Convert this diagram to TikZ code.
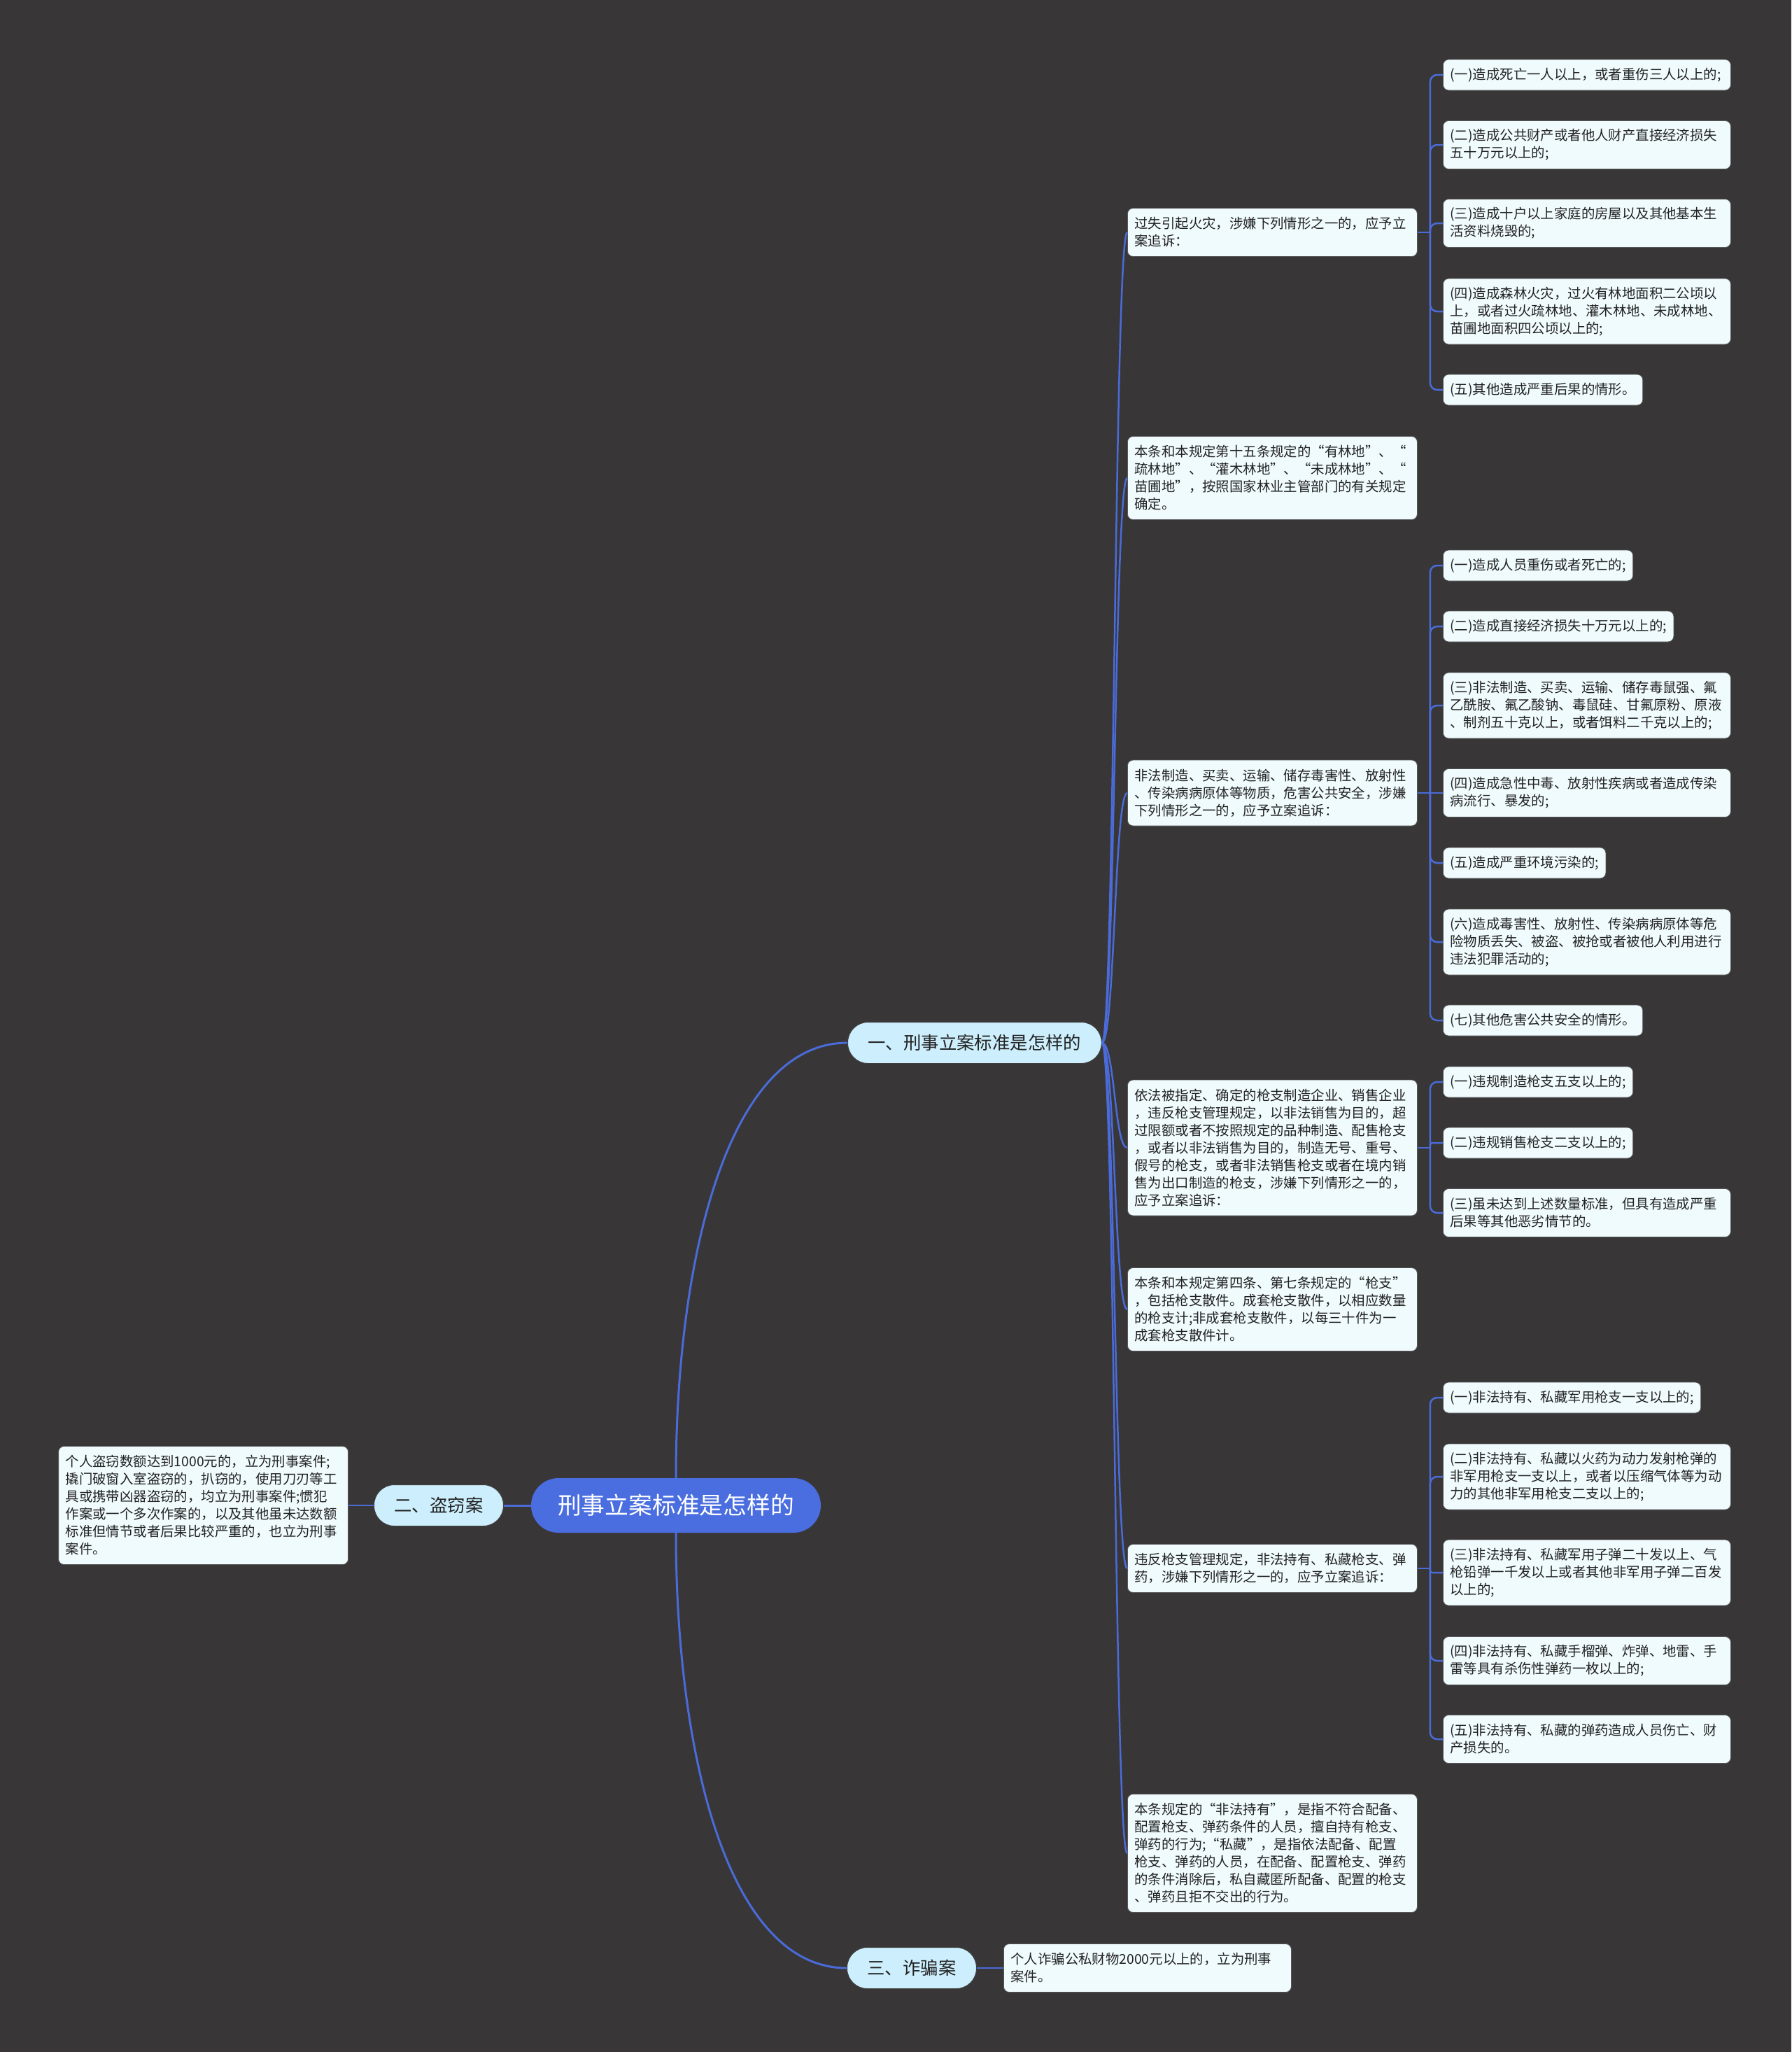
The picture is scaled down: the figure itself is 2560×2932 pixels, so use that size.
\documentclass[tikz,border=0pt]{standalone}
\usepackage{fontspec}
\newfontfamily\cjk{Noto Sans CJK SC}
\definecolor{bg}{RGB}{56,54,55}
\definecolor{linec}{RGB}{74,107,216}
\definecolor{rootf}{RGB}{74,110,224}
\definecolor{branchf}{RGB}{205,239,253}
\definecolor{leaff}{RGB}{240,251,254}
\definecolor{txt}{RGB}{34,34,34}
\tikzset{
  conn/.style={draw=linec, line width=3pt},
  conn2/.style={draw=linec, line width=2.5pt},
  leaf/.style={draw=black!65, line width=0.8pt, fill=leaff, rounded corners=8pt,
    inner xsep=10pt, inner ysep=2pt, anchor=west, align=left, text=txt,
    font=\cjk\fontsize{19.4}{25}\selectfont},
  wide/.style={text width=391pt},
  ptw/.style={text width=394pt},
  h1/.style={minimum height=44pt},
  h2/.style={minimum height=69pt},
  h3/.style={minimum height=94pt},
  h4/.style={minimum height=119pt},
  h6/.style={minimum height=169pt},
  h7/.style={minimum height=194pt},
  branch/.style={fill=branchf, draw=black!75, line width=1pt, rounded corners=29pt,
    minimum height=59pt, inner xsep=29pt, inner ysep=2pt, text=txt,
    font=\cjk\fontsize{25.4}{30}\selectfont},
  rootn/.style={fill=rootf, rounded corners=39pt, minimum height=78pt,
    inner xsep=38pt, inner ysep=2pt, text=white,
    font=\cjk\fontsize{33.8}{40}\selectfont},
}
\begin{document}
\begin{tikzpicture}[x=1pt,y=-1pt]
\path[fill=bg] (0,0) rectangle (2560,2932);
\useasboundingbox (0,0) rectangle (2560,2932);

% root and branches
\node[rootn] (root) at (966,2151) {刑事立案标准是怎样的};
\node[branch, anchor=west] (b1) at (1211,1490) {一、刑事立案标准是怎样的};
\node[branch, anchor=east] (b2) at (720,2151) {二、盗窃案};
\node[branch, anchor=west] (b3) at (1210,2812) {三、诈骗案};

% level 2 under b1
\node[leaf, ptw, h2] (p1a) at (1611,332) {过失引起火灾，涉嫌下列情形之一的，应予立\\案追诉：};
\node[leaf, ptw, h4] (p1b) at (1611,683) {本条和本规定第十五条规定的“有林地”、“\\疏林地”、“灌木林地”、“未成林地”、“\\苗圃地”，按照国家林业主管部门的有关规定\\确定。};
\node[leaf, ptw, h3] (p2a) at (1611,1133) {非法制造、买卖、运输、储存毒害性、放射性\\、传染病病原体等物质，危害公共安全，涉嫌\\下列情形之一的，应予立案追诉：};
\node[leaf, ptw, h7] (p2b) at (1611,1640) {依法被指定、确定的枪支制造企业、销售企业\\，违反枪支管理规定，以非法销售为目的，超\\过限额或者不按照规定的品种制造、配售枪支\\，或者以非法销售为目的，制造无号、重号、\\假号的枪支，或者非法销售枪支或者在境内销\\售为出口制造的枪支，涉嫌下列情形之一的，\\应予立案追诉：};
\node[leaf, ptw, h4] (p2c) at (1611,1871) {本条和本规定第四条、第七条规定的“枪支”\\，包括枪支散件。成套枪支散件，以相应数量\\的枪支计;非成套枪支散件，以每三十件为一\\成套枪支散件计。};
\node[leaf, ptw, h2] (p2d) at (1611,2241) {违反枪支管理规定，非法持有、私藏枪支、弹\\药，涉嫌下列情形之一的，应予立案追诉：};
\node[leaf, ptw, h6] (p2e) at (1611,2648) {本条规定的“非法持有”，是指不符合配备、\\配置枪支、弹药条件的人员，擅自持有枪支、\\弹药的行为;“私藏”，是指依法配备、配置\\枪支、弹药的人员，在配备、配置枪支、弹药\\的条件消除后，私自藏匿所配备、配置的枪支\\、弹药且拒不交出的行为。};

% leaves group 1
\node[leaf, wide, h1] (l1a) at (2062,107) {(一)造成死亡一人以上，或者重伤三人以上的;};
\node[leaf, wide, h2] (l1b) at (2062,207) {(二)造成公共财产或者他人财产直接经济损失\\五十万元以上的;};
\node[leaf, wide, h2] (l1c) at (2062,319) {(三)造成十户以上家庭的房屋以及其他基本生\\活资料烧毁的;};
\node[leaf, wide, h3] (l1d) at (2062,445) {(四)造成森林火灾，过火有林地面积二公顷以\\上，或者过火疏林地、灌木林地、未成林地、\\苗圃地面积四公顷以上的;};
\node[leaf, h1] (l1e) at (2062,557) {(五)其他造成严重后果的情形。};

% leaves group 2
\node[leaf, h1] (l2a) at (2062,808) {(一)造成人员重伤或者死亡的;};
\node[leaf, h1] (l2b) at (2062,895) {(二)造成直接经济损失十万元以上的;};
\node[leaf, wide, h3] (l2c) at (2062,1008) {(三)非法制造、买卖、运输、储存毒鼠强、氟\\乙酰胺、氟乙酸钠、毒鼠硅、甘氟原粉、原液\\、制剂五十克以上，或者饵料二千克以上的;};
\node[leaf, wide, h2] (l2d) at (2062,1133) {(四)造成急性中毒、放射性疾病或者造成传染\\病流行、暴发的;};
\node[leaf, h1] (l2e) at (2062,1233) {(五)造成严重环境污染的;};
\node[leaf, wide, h3] (l2f) at (2062,1346) {(六)造成毒害性、放射性、传染病病原体等危\\险物质丢失、被盗、被抢或者被他人利用进行\\违法犯罪活动的;};
\node[leaf, h1] (l2g) at (2062,1458) {(七)其他危害公共安全的情形。};

% leaves group 3
\node[leaf, h1] (l3a) at (2062,1546) {(一)违规制造枪支五支以上的;};
\node[leaf, h1] (l3b) at (2062,1633) {(二)违规销售枪支二支以上的;};
\node[leaf, wide, h2] (l3c) at (2062,1733) {(三)虽未达到上述数量标准，但具有造成严重\\后果等其他恶劣情节的。};

% leaves group 4
\node[leaf, h1] (l4a) at (2062,1997) {(一)非法持有、私藏军用枪支一支以上的;};
\node[leaf, wide, h3] (l4b) at (2062,2110) {(二)非法持有、私藏以火药为动力发射枪弹的\\非军用枪支一支以上，或者以压缩气体等为动\\力的其他非军用枪支二支以上的;};
\node[leaf, wide, h3] (l4c) at (2062,2247) {(三)非法持有、私藏军用子弹二十发以上、气\\枪铅弹一千发以上或者其他非军用子弹二百发\\以上的;};
\node[leaf, wide, h2] (l4d) at (2062,2373) {(四)非法持有、私藏手榴弹、炸弹、地雷、手\\雷等具有杀伤性弹药一枚以上的;};
\node[leaf, wide, h2] (l4e) at (2062,2485) {(五)非法持有、私藏的弹药造成人员伤亡、财\\产损失的。};

% other leaves
\node[leaf, ptw, h6, anchor=east] (l5) at (498,2151) {个人盗窃数额达到1000元的，立为刑事案件;\\撬门破窗入室盗窃的，扒窃的，使用刀刃等工\\具或携带凶器盗窃的，均立为刑事案件;惯犯\\作案或一个多次作案的，以及其他虽未达数额\\标准但情节或者后果比较严重的，也立为刑事\\案件。};
\node[leaf, wide, h2] (l6) at (1434,2812) {个人诈骗公私财物2000元以上的，立为刑事\\案件。};

% connectors: root level
\draw[conn] (root.north) .. controls +(0,-312) and +(-171,0) .. (b1.west);
\draw[conn] (root.south) .. controls +(0,312) and +(-171,0) .. (b3.west);
\draw[conn] (root.west) -- (b2.east);
\draw[conn2] (b2.west) -- (l5.east);
\draw[conn2] (b3.east) -- (l6.west);

% connectors: b1 to its children (S-curves)
\foreach \c in {p1a,p1b,p2a,p2b,p2c,p2d,p2e}{
  \draw[conn2] (b1.east) .. controls +(18.5,0) and +(-18.5,0) .. (\c.west);
}

% connectors: parents to leaves
\path (p1a.east) ++(18,0) coordinate (s1);
\path (p2a.east) ++(18,0) coordinate (s2);
\path (p2b.east) ++(18,0) coordinate (s3);
\path (p2d.east) ++(18,0) coordinate (s4);
\draw[conn2] (p1a.east) -- (s1);
\draw[conn2] (p2a.east) -- (s2);
\draw[conn2] (p2b.east) -- (s3);
\draw[conn2] (p2d.east) -- (s4);
\foreach \c in {l1a,l1b,l1c,l1d,l1e}{
  \draw[conn2, rounded corners=10pt] (s1) |- (\c.west);
}
\foreach \c in {l2a,l2b,l2c,l2e,l2f,l2g}{
  \draw[conn2, rounded corners=10pt] (s2) |- (\c.west);
}
\draw[conn2] (s2) -- (l2d.west);
\foreach \c in {l3a,l3c}{
  \draw[conn2, rounded corners=10pt] (s3) |- (\c.west);
}
\draw[conn2, rounded corners=3pt] (s3) |- (l3b.west);
\foreach \c in {l4a,l4b,l4d,l4e}{
  \draw[conn2, rounded corners=10pt] (s4) |- (\c.west);
}
\draw[conn2, rounded corners=3pt] (s4) |- (l4c.west);
\end{tikzpicture}
\end{document}
